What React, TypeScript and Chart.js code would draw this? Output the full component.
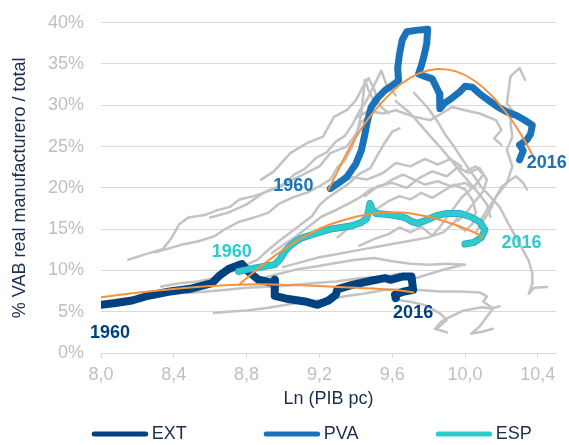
import React, { useEffect, useRef } from 'react';
import { Chart, registerables } from 'chart.js';

Chart.register(...registerables);

type P = [number, number];

// ---- axis ticks ----
const X_TICKS = [8.0, 8.4, 8.8, 9.2, 9.6, 10.0, 10.4];
const Y_TICKS = [0, 5, 10, 15, 20, 25, 30, 35, 40];

// ---- highlighted series (Ln PIB pc, % VAB manufacturero) ----
const EXT: P[] = [
  [8.0, 5.84], [8.08, 6.05], [8.17, 6.36], [8.26, 6.93], [8.37, 7.42], [8.5, 7.82], [8.61, 8.47],
  [8.65, 9.35], [8.7, 10.16], [8.774, 10.77], [8.81, 9.87], [8.865, 8.87], [8.947, 8.47], [8.956, 8.87],
  [8.953, 7.66], [8.956, 6.93], [9.03, 6.53], [9.12, 6.24], [9.19, 5.84], [9.25, 6.36], [9.29, 7.05],
  [9.3, 7.74], [9.38, 8.26], [9.49, 8.78], [9.56, 9.07], [9.59, 8.87], [9.66, 9.27], [9.706, 9.27],
  [9.715, 7.66], [9.66, 7.42], [9.615, 7.05], [9.62, 6.65],
];
const PVA: P[] = [
  [9.26, 19.9], [9.3, 20.5], [9.35, 21.3], [9.4, 22.9], [9.43, 24.5], [9.45, 26.5], [9.465, 28.2],
  [9.485, 29.8], [9.52, 30.9], [9.56, 31.8], [9.6, 32.4], [9.635, 33.0], [9.63, 34.5], [9.64, 36.2],
  [9.655, 37.9], [9.68, 38.9], [9.74, 39.1], [9.795, 39.2], [9.79, 37.5], [9.775, 36.0], [9.76, 34.8],
  [9.745, 33.8], [9.78, 33.5], [9.82, 33.2], [9.84, 32.3], [9.86, 31.4], [9.862, 29.6], [9.89, 30.3],
  [9.93, 30.9], [9.97, 31.6], [10.0, 32.3], [10.04, 32.2], [10.08, 31.4], [10.13, 30.6], [10.18, 29.8],
  [10.23, 29.2], [10.28, 28.8], [10.32, 28.3], [10.37, 27.6], [10.36, 26.5], [10.34, 25.8], [10.3, 25.2],
  [10.32, 24.5], [10.3, 23.4],
];
const ESP: P[] = [
  [8.755, 9.87], [8.8, 10.1], [8.85, 10.3], [8.9, 10.5], [8.955, 10.7], [8.985, 11.4], [9.01, 12.3],
  [9.04, 13.0], [9.07, 13.5], [9.1, 13.9], [9.14, 14.2], [9.2, 14.6], [9.26, 15.0], [9.32, 15.2],
  [9.38, 15.4], [9.43, 15.8], [9.46, 16.3], [9.47, 17.2], [9.478, 18.1], [9.49, 17.4], [9.51, 16.9],
  [9.56, 16.8], [9.6, 16.7], [9.65, 16.5], [9.68, 16.3], [9.71, 15.9], [9.74, 15.7], [9.79, 16.1],
  [9.84, 16.6], [9.9, 16.9], [9.97, 16.9], [10.03, 16.5], [10.08, 15.9], [10.11, 14.9], [10.09, 14.0],
  [10.05, 13.4], [10.0, 13.2],
];

// ---- trend lines ----
const EXT_TREND: P[] = [
  [8.0, 6.75], [8.2, 7.3], [8.4, 7.75], [8.6, 8.1], [8.8, 8.3], [9.0, 8.28], [9.2, 8.1],
  [9.4, 7.9], [9.6, 7.65], [9.715, 7.35],
];
const ESP_TREND: P[] = [
  [8.76, 8.3], [8.85, 10.0], [8.95, 11.7], [9.05, 13.2], [9.15, 14.5], [9.25, 15.5], [9.35, 16.2],
  [9.45, 16.7], [9.55, 17.0], [9.65, 17.0], [9.75, 16.7], [9.85, 16.2], [9.95, 15.5], [10.05, 14.6],
  [10.1, 14.0],
];
const PVA_TREND: P[] = [
  [9.25, 19.8], [9.3, 22.0], [9.35, 24.2], [9.45, 27.8], [9.55, 30.5], [9.65, 32.6], [9.75, 33.9],
  [9.85, 34.4], [9.95, 34.1], [10.05, 33.0], [10.15, 31.1], [10.25, 28.4], [10.32, 26.0], [10.375, 23.8],
];

// ---- other regions (grey) ----
const G01: P[] = [[8.15, 11.3], [8.25, 12.0], [8.34, 12.6], [8.39, 14.0], [8.43, 15.6], [8.48, 16.4], [8.57, 16.7], [8.64, 17.3], [8.71, 17.7], [8.76, 18.6], [8.84, 19.0], [8.92, 19.6], [9.0, 20.3], [9.06, 21.6], [9.12, 22.3], [9.18, 23.6], [9.24, 24.3], [9.29, 25.6], [9.34, 26.3], [9.38, 27.6], [9.42, 29.3], [9.46, 30.6], [9.5, 32.4], [9.54, 34.2], [9.57, 32.4], [9.62, 31.2]];
const G02: P[] = [[8.3, 12.2], [8.44, 13.1], [8.53, 13.5], [8.62, 14.1], [8.69, 15.1], [8.76, 15.9], [8.84, 16.4], [8.92, 17.0], [8.98, 18.1], [9.06, 18.9], [9.13, 19.4], [9.2, 20.2], [9.26, 21.0], [9.3, 22.5], [9.34, 23.3], [9.38, 25.0], [9.41, 27.0], [9.43, 29.0], [9.44, 31.0], [9.45, 33.1], [9.47, 31.8], [9.5, 30.5]];
const G03: P[] = [[8.33, 8.06], [8.44, 8.47], [8.53, 8.67], [8.62, 9.07], [8.7, 9.7], [8.78, 10.5], [8.86, 11.3], [8.92, 12.5], [8.98, 13.6], [9.04, 14.6], [9.1, 15.6], [9.16, 16.6], [9.2, 17.9], [9.24, 18.7], [9.3, 19.6], [9.36, 20.5], [9.42, 21.7], [9.48, 22.4], [9.52, 24.0], [9.56, 25.5], [9.6, 26.8], [9.64, 27.2]];
const G04: P[] = [[8.62, 4.84], [8.71, 5.03], [8.8, 5.15], [8.91, 5.44], [9.02, 5.84], [9.13, 6.24], [9.24, 6.45], [9.35, 6.9], [9.45, 7.2], [9.56, 7.66], [9.66, 7.7], [9.73, 7.66], [9.86, 7.45], [9.97, 7.45], [10.08, 7.33], [10.12, 6.85], [10.1, 6.25], [10.15, 5.44], [10.19, 5.65]];
const G05: P[] = [[8.47, 7.26], [8.58, 7.45], [8.69, 7.66], [8.8, 7.9], [8.96, 8.06], [9.07, 8.26], [9.18, 8.47], [9.29, 8.67], [9.43, 9.07], [9.56, 9.27], [9.64, 9.6], [9.7, 8.87], [9.79, 9.47], [9.88, 10.08], [9.99, 10.68]];
const G06: P[] = [[8.85, 8.87], [8.96, 9.47], [9.07, 10.1], [9.18, 10.48], [9.29, 10.89], [9.4, 11.29], [9.5, 11.5], [9.6, 11.1], [9.7, 10.8], [9.8, 10.7], [9.9, 10.8], [10.0, 10.7]];
const G07: P[] = [[8.94, 12.1], [8.99, 12.9], [9.07, 14.1], [9.14, 15.3], [9.21, 16.5], [9.29, 17.3], [9.36, 18.1], [9.42, 18.8], [9.48, 19.8], [9.55, 20.3], [9.6, 21.0], [9.66, 21.6], [9.72, 21.0], [9.78, 20.4], [9.85, 20.8], [9.92, 20.2], [10.0, 20.6], [10.06, 19.8]];
const G08: P[] = [[9.3, 14.0], [9.38, 15.5], [9.45, 16.2], [9.52, 17.5], [9.58, 18.4], [9.64, 19.0], [9.7, 18.6], [9.76, 19.4], [9.82, 18.8], [9.88, 19.6], [9.94, 20.4], [10.0, 19.8], [10.04, 18.6], [10.06, 17.0], [10.04, 15.6], [10.0, 14.8], [9.96, 15.4]];
const G09: P[] = [[9.42, 13.0], [9.5, 13.8], [9.58, 14.4], [9.64, 15.2], [9.7, 14.6], [9.76, 15.3], [9.82, 14.2], [9.86, 15.2], [9.9, 16.4], [9.94, 17.6], [9.98, 18.8], [10.02, 19.6], [10.06, 20.4], [10.1, 21.6], [10.06, 22.6], [10.0, 22.0]];
const G10: P[] = [[10.09, 16.2], [10.12, 17.3], [10.17, 18.9], [10.23, 20.6], [10.26, 22.6], [10.23, 24.6], [10.26, 26.2], [10.25, 27.8], [10.26, 29.4], [10.23, 30.2], [10.25, 33.5], [10.3, 34.5], [10.33, 33.1]];
const G11: P[] = [[9.72, 31.5], [9.795, 29.7], [9.85, 28.0], [9.89, 26.5], [9.94, 25.0], [9.99, 23.3], [10.04, 21.7], [10.09, 20.1], [10.14, 18.9], [10.19, 17.7], [10.23, 16.0], [10.27, 14.4], [10.31, 12.8], [10.35, 11.2], [10.37, 9.6], [10.37, 8.37], [10.35, 7.16], [10.38, 7.9], [10.45, 8.0]];
const G12: P[] = [[9.4, 28.5], [9.47, 29.3], [9.55, 29.0], [9.62, 29.4], [9.72, 28.6], [9.81, 28.2], [9.9, 29.4], [9.93, 29.8], [10.0, 29.4], [10.08, 29.0], [10.17, 28.2], [10.2, 27.0], [10.16, 26.0], [10.2, 25.2]];
const G13: P[] = [[8.6, 16.4], [8.7, 17.0], [8.8, 18.0], [8.9, 19.5], [8.98, 20.2], [9.09, 21.4], [9.2, 22.6], [9.26, 24.2], [9.35, 25.0], [9.4, 26.5], [9.43, 28.0], [9.47, 28.5]];
const G14: P[] = [[8.88, 21.0], [8.95, 22.0], [9.04, 24.2], [9.13, 25.4], [9.22, 26.2], [9.28, 28.6], [9.35, 29.4], [9.4, 30.6], [9.44, 32.3], [9.47, 33.3], [9.5, 32.0], [9.53, 30.0], [9.58, 29.0]];
const G15: P[] = [[9.6, 6.5], [9.7, 6.2], [9.78, 5.8], [9.86, 4.84], [9.9, 4.03], [9.86, 3.22], [9.84, 2.9], [9.9, 2.5]];
const G16: P[] = [[9.835, 2.94], [9.87, 3.8], [9.915, 4.35], [9.994, 5.15], [10.094, 5.55], [10.153, 5.35], [10.12, 4.4], [10.08, 3.2], [10.034, 2.33], [10.1, 2.6], [10.153, 2.94]];
const G17: P[] = [[10.06, 14.6], [10.1, 16.0], [10.14, 17.4], [10.17, 18.9], [10.2, 20.1], [10.24, 20.8], [10.28, 21.4], [10.32, 20.6], [10.34, 19.8]];
const G18: P[] = [[9.45, 19.0], [9.52, 20.2], [9.6, 20.6], [9.68, 20.0], [9.75, 21.2], [9.82, 22.0], [9.9, 21.4], [9.96, 22.5], [10.02, 21.8], [10.08, 22.4], [10.12, 21.0], [10.1, 19.6], [10.05, 18.2], [10.0, 16.8], [9.96, 16.0]];
const G19: P[] = [[9.62, 30.5], [9.7, 29.0], [9.76, 27.5], [9.82, 26.0], [9.88, 24.5], [9.93, 23.2], [9.98, 21.8], [10.03, 20.5], [10.08, 19.2], [10.12, 18.0], [10.14, 16.5]];
const G20: P[] = [[9.0, 10.4], [9.1, 11.0], [9.2, 11.6], [9.3, 12.0], [9.4, 12.4], [9.5, 12.8], [9.6, 13.2], [9.7, 13.6], [9.8, 14.0], [9.88, 14.6], [9.94, 15.8], [9.98, 17.0]];
const G21: P[] = [[9.3, 20.5], [9.38, 21.3], [9.46, 21.0], [9.55, 21.8], [9.62, 23.0], [9.7, 22.6], [9.78, 23.5], [9.85, 22.8], [9.92, 23.5], [9.98, 22.6]];
const GREY = [G01, G02, G03, G04, G05, G06, G07, G08, G09, G10, G11, G12, G13, G14, G15, G16, G17, G18, G19, G20, G21];

// ---- year annotations ----
const YEAR_LABELS: { text: string; x: number; y: number; color: string }[] = [
  { text: '1960', x: 8.05, y: 2.46, color: '#00427f' },
  { text: '2016', x: 9.715, y: 4.84, color: '#00427f' },
  { text: '1960', x: 9.057, y: 20.16, color: '#1a73ba' },
  { text: '2016', x: 10.449, y: 22.99, color: '#1a73ba' },
  { text: '1960', x: 8.719, y: 12.17, color: '#2ecbcb' },
  { text: '2016', x: 10.31, y: 13.31, color: '#2ecbcb' },
];

const LEGEND_ITEMS = [
  { label: 'EXT', color: '#00427f' },
  { label: 'PVA', color: '#1a73ba' },
  { label: 'ESP', color: '#2ecbcb' },
];

const NAVY = '#1c2d52';
const TICK_GREY = '#bfbfbf';
const FONT = '"Liberation Sans", Arial, sans-serif';

const pts = (a: P[]) => a.map(([x, y]) => ({ x, y }));

const yearPlugin = {
  id: 'yearLabels',
  afterDatasetsDraw(chart: any) {
    const { ctx, scales } = chart;
    ctx.save();
    ctx.font = `bold 18px ${FONT}`;
    ctx.textAlign = 'center';
    ctx.textBaseline = 'middle';
    YEAR_LABELS.forEach((l) => {
      ctx.fillStyle = l.color;
      ctx.fillText(l.text, scales.x.getPixelForValue(l.x), scales.y.getPixelForValue(l.y));
    });
    ctx.restore();
  },
};

const legendPlugin = {
  id: 'bottomLegend',
  afterDraw(chart: any) {
    const { ctx, chartArea } = chart;
    const y = chart.height - 11;
    ctx.save();
    ctx.font = `18px ${FONT}`;
    ctx.textAlign = 'left';
    ctx.textBaseline = 'middle';
    LEGEND_ITEMS.forEach((it, i) => {
      const x0 = chartArea.left - 6.8 + i * 172;
      ctx.strokeStyle = it.color;
      ctx.lineWidth = 5;
      ctx.lineCap = 'round';
      ctx.beginPath();
      ctx.moveTo(x0, y);
      ctx.lineTo(x0 + 51.5, y);
      ctx.stroke();
      ctx.fillStyle = NAVY;
      ctx.fillText(it.label, x0 + 57.5, y);
    });
    ctx.restore();
  },
};

export default function App() {
  const ref = useRef<HTMLCanvasElement>(null);

  useEffect(() => {
    document.body.style.margin = '0';
    const line = (data: P[], color: string, width: number, order: number, tension = 0) => ({
      data: pts(data),
      showLine: true,
      borderColor: color,
      backgroundColor: color,
      borderWidth: width,
      pointRadius: 0,
      pointHoverRadius: 0,
      tension,
      order,
      borderCapStyle: 'round',
      borderJoinStyle: 'round',
      fill: false,
    });
    const datasets: any[] = [
      ...GREY.map((g) => line(g, '#c3c3c3', 2.5, 10)),
      line(EXT, '#00427f', 8, 5),
      line(PVA, '#1a73ba', 7, 4),
      line(ESP, '#2a9fc6', 7, 3),
      line(ESP, '#2ecbcb', 5.5, 2),
      line(EXT_TREND, '#f7913d', 2, 1, 0.4),
      line(ESP_TREND, '#f7913d', 2, 1, 0.4),
      line(PVA_TREND, '#f7913d', 2, 1, 0.4),
    ];

    const chart = new Chart(ref.current as HTMLCanvasElement, {
      type: 'scatter',
      data: { datasets },
      plugins: [yearPlugin, legendPlugin],
      options: {
        animation: false,
        responsive: false,
        devicePixelRatio: 1,
        layout: { padding: { top: 22.7, right: 13, bottom: 30, left: 0 } },
        plugins: { legend: { display: false }, tooltip: { enabled: false } },
        scales: {
          x: {
            type: 'linear',
            min: 8,
            max: 10.5,
            afterBuildTicks: (s: any) => {
              s.ticks = X_TICKS.map((v) => ({ value: v }));
            },
            afterFit: (s: any) => {
              s.height = 62;
              s.paddingLeft = 0;
              s.paddingRight = 0;
            },
            ticks: {
              color: TICK_GREY,
              font: { family: FONT, size: 18 },
              padding: 6,
              maxRotation: 0,
              callback: (v: any) => Number(v).toFixed(1).replace('.', ','),
            },
            grid: { drawOnChartArea: false, drawTicks: true, tickLength: 5, color: '#d9d9d9' },
            border: { display: true, color: '#d9d9d9' },
            title: {
              display: true,
              text: 'Ln (PIB pc)',
              color: NAVY,
              font: { family: FONT, size: 18 },
              padding: { top: 0, bottom: 5 },
            },
          },
          y: {
            type: 'linear',
            min: 0,
            max: 40,
            afterBuildTicks: (s: any) => {
              s.ticks = Y_TICKS.map((v) => ({ value: v }));
            },
            afterFit: (s: any) => {
              s.width = 101;
              s.paddingTop = 0;
              s.paddingBottom = 0;
            },
            ticks: {
              color: TICK_GREY,
              font: { family: FONT, size: 18 },
              padding: 17,
              callback: (v: any) => `${v}%`,
            },
            grid: { drawTicks: false, color: '#d9d9d9' },
            border: { display: false },
            title: {
              display: true,
              text: '% VAB real manufacturero / total',
              color: NAVY,
              font: { family: FONT, size: 18 },
              padding: { top: 9, bottom: 0 },
            },
          },
        },
      },
    } as any);
    return () => chart.destroy();
  }, []);

  return (
    <div style={{ width: 569, height: 445 }}>
      <canvas ref={ref} width={569} height={445} style={{ display: 'block', width: 569, height: 445 }} />
    </div>
  );
}
